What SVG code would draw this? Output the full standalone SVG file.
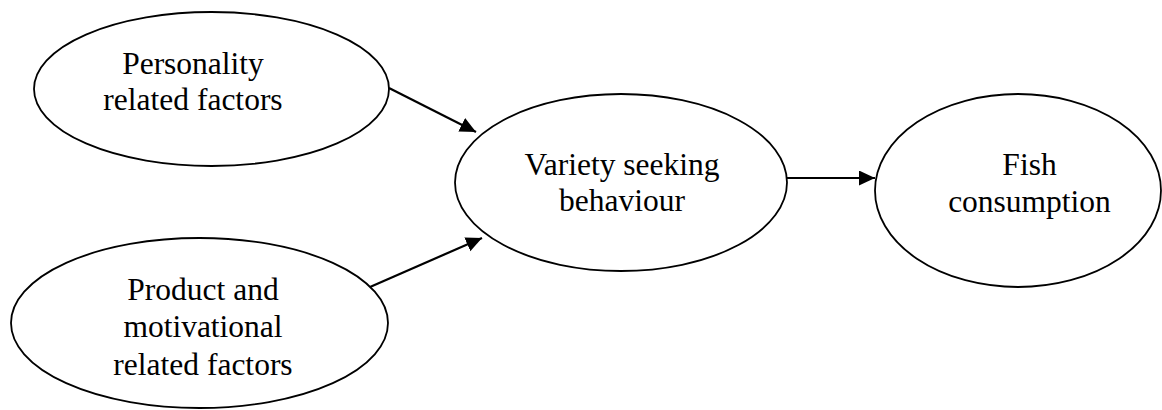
<svg xmlns="http://www.w3.org/2000/svg" width="1162" height="410" viewBox="0 0 1162 410">
  <style>
    .node ellipse { fill: #ffffff; stroke: #000000; stroke-width: 1.8; }
    .node text { font-family: "Liberation Serif", "Times New Roman", serif; font-size: 31.5px; fill: #000000; text-anchor: middle; }
    .edge { stroke: #000000; stroke-width: 2.2; fill: none; marker-end: url(#arrow); }
  </style>
  <defs>
    <marker id="arrow" markerUnits="userSpaceOnUse" markerWidth="17" markerHeight="16" refX="16" refY="7.5" orient="auto">
      <path d="M0,0 L16,7.5 L0,15 z" fill="#000000"/>
    </marker>
  </defs>
  <rect width="1162" height="410" fill="#ffffff"/>

  <g id="node-personality" class="node">
    <ellipse cx="211.5" cy="89" rx="177.5" ry="77"/>
    <text x="193" y="74">Personality</text>
    <text x="193" y="110">related factors</text>
  </g>

  <g id="node-product" class="node">
    <ellipse cx="199.5" cy="323" rx="188.5" ry="85"/>
    <text x="203" y="300">Product and</text>
    <text x="203" y="337">motivational</text>
    <text x="203" y="375">related factors</text>
  </g>

  <g id="node-variety" class="node">
    <ellipse cx="621" cy="182.5" rx="166" ry="88.5"/>
    <text x="622" y="175">Variety seeking</text>
    <text x="622" y="211">behaviour</text>
  </g>

  <g id="node-fish" class="node">
    <ellipse cx="1018" cy="190.5" rx="143" ry="96.5"/>
    <text x="1029.5" y="175">Fish</text>
    <text x="1029.5" y="212">consumption</text>
  </g>

  <g id="connectors">
    <line class="edge" x1="389" y1="88" x2="476" y2="132"/>
    <line class="edge" x1="370" y1="287" x2="482" y2="238"/>
    <line class="edge" x1="787" y1="178" x2="875" y2="178"/>
  </g>
</svg>
